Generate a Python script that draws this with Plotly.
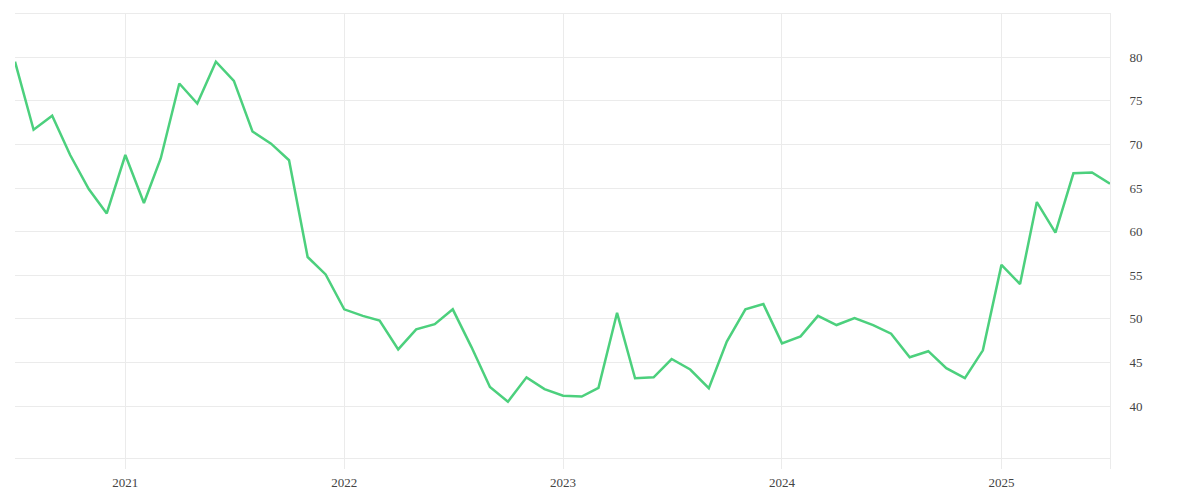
import pandas as pd
import plotly.graph_objects as go

# Monthly values, Jul 2020 - Jul 2025
months = pd.date_range("2020-07-01", "2025-07-01", freq="MS")
values = [
    79.5, 71.7, 73.3, 68.8, 64.9, 62.1,            # 2020 Jul-Dec
    68.8, 63.3, 68.4, 77.0, 74.7, 79.5,            # 2021 Jan-Jun
    77.3, 71.5, 70.1, 68.2, 57.1, 55.1,            # 2021 Jul-Dec
    51.1, 50.35, 49.8, 46.5, 48.8, 49.4,           # 2022 Jan-Jun
    51.1, 46.8, 42.2, 40.5, 43.3, 41.95,           # 2022 Jul-Dec
    41.2, 41.1, 42.1, 50.7, 43.2, 43.3,            # 2023 Jan-Jun
    45.4, 44.2, 42.05, 47.4, 51.1, 51.7,           # 2023 Jul-Dec
    47.2, 48.0, 50.35, 49.3, 50.1, 49.3,           # 2024 Jan-Jun
    48.3, 45.6, 46.3, 44.35, 43.2, 46.4,           # 2024 Jul-Dec
    56.2, 54.0, 63.4, 59.9, 66.7, 66.8,            # 2025 Jan-Jun
    65.5,                                          # 2025 Jul
]

x_tickvals = ["2021-01-01", "2022-01-01", "2023-01-01", "2024-01-01", "2025-01-01", "2025-07-01"]
x_ticktext = ["2021", "2022", "2023", "2024", "2025", ""]
y_tickvals = [40, 45, 50, 55, 60, 65, 70, 75, 80]

grid = "#ebebeb"

fig = go.Figure()
fig.add_trace(go.Scatter(
    x=months,
    y=values,
    mode="lines",
    line=dict(color="#4cd07d", width=2.5),
    hoverinfo="x+y",
))

# page body adds 8px, so margins are shifted to put the plot area where the reference has it
fig.update_layout(
    width=1200,
    height=500,
    margin=dict(l=7, r=98, t=6, b=50),
    paper_bgcolor="white",
    plot_bgcolor="white",
    showlegend=False,
    font=dict(family="Liberation Serif", size=13, color="#444"),
)

fig.update_xaxes(
    range=["2020-07-01", "2025-07-01"],
    tickvals=x_tickvals,
    ticktext=x_ticktext,
    showgrid=True,
    gridcolor=grid,
    ticks="outside",
    ticklen=10,
    tickcolor=grid,
    ticklabelstandoff=2,
    showline=True,
    linecolor=grid,
    mirror=True,
    zeroline=False,
)

fig.update_yaxes(
    side="right",
    range=[34.05, 84.97],
    tickvals=y_tickvals,
    showgrid=True,
    gridcolor=grid,
    ticks="outside",
    ticklen=16,
    tickcolor="rgba(0,0,0,0)",
    showline=True,
    linecolor=grid,
    zeroline=False,
)

fig.write_html("out.html")
